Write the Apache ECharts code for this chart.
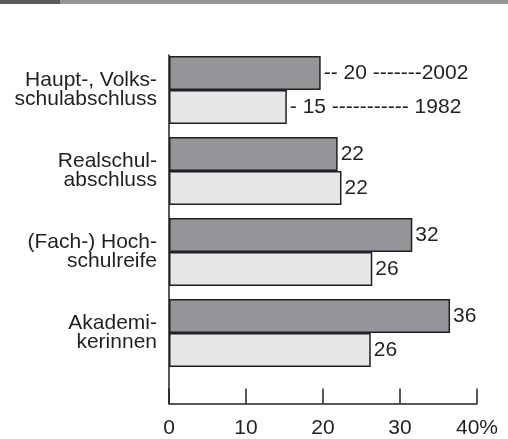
<!DOCTYPE html>
<html>
<head>
<meta charset="utf-8">
<script src="https://cdn.jsdelivr.net/npm/echarts@6/dist/echarts.min.js"></script>
<style>html,body{margin:0;padding:0;background:#fff}#main{width:508px;height:439px}</style>
</head>
<body>
<div id="main"></div>
<script>
var myChart = echarts.init(document.getElementById('main'));

// categories (top to bottom)
var categories = ['Haupt-, Volks-\nschulabschluss', 'Realschul-\nabschluss', '(Fach-) Hoch-\nschulreife', 'Akademi-\nkerinnen'];
// bar lengths, percent
var values2002 = [19.7, 21.9, 31.6, 36.5];
var values1982 = [15.3, 22.4, 26.4, 26.2];
// printed labels
var labels2002 = ['20', '22', '32', '36'];
var labels1982 = ['15', '22', '26', '26'];
var xTicks = [0, 10, 20, 30, 40];

var ink = '#231f20';
var font = '"Liberation Sans", Arial, Helvetica, sans-serif';
var fs = 21;

var option = {
    backgroundColor: '#ffffff',
    textStyle: { fontFamily: font, color: ink },
    animation: false,
    graphic: [ // header strip
        { type: 'rect', shape: { x: 60, y: 0, width: 448, height: 4 }, style: { fill: '#939598' } },
        { type: 'rect', shape: { x: 0, y: 0, width: 60, height: 4 }, style: { fill: '#58595b' } }
    ],
    grid: [
        { left: 169, width: 308, top: 49.5, height: 324 }, // bars
        { left: 169, width: 308, top: 55, bottom: 35.5 }    // axes
    ],
    xAxis: [
        { gridIndex: 0, type: 'value', min: 0, max: 40, show: false },
        {
            gridIndex: 1, type: 'value', min: 0, max: 40, interval: 10,
            axisLine: { show: true, lineStyle: { color: ink, width: 1.5 } },
            axisTick: { show: true, inside: true, length: 15, lineStyle: { color: ink, width: 1.5 } },
            splitLine: { show: false },
            axisLabel: {
                margin: 14, fontSize: fs, color: ink, fontFamily: font,
                formatter: function (v) { return v === xTicks[xTicks.length - 1] ? v + '%' : '' + v; }
            }
        }
    ],
    yAxis: [
        {
            gridIndex: 0, type: 'category', inverse: true, data: categories,
            axisLine: { show: false }, axisTick: { show: false },
            axisLabel: { margin: 12, fontSize: fs, lineHeight: 19, color: ink, fontFamily: font, align: 'right' }
        },
        {
            gridIndex: 1, type: 'value', min: 0, max: 1,
            axisLine: { show: true, lineStyle: { color: ink, width: 1.5 } },
            axisTick: { show: false }, axisLabel: { show: false }, splitLine: { show: false }
        }
    ],
    series: [
        {
            name: '2002', type: 'bar', xAxisIndex: 0, yAxisIndex: 0,
            data: values2002, barWidth: 34, barGap: '0%',
            itemStyle: { color: '#939598', borderColor: ink, borderWidth: 1.5 },
            label: {
                show: true, position: 'right', distance: 3, fontSize: fs, color: ink, fontFamily: font,
                formatter: function (p) {
                    if (p.dataIndex === 0) return '-- ' + labels2002[0] + ' -------2002';
                    return labels2002[p.dataIndex];
                }
            }
        },
        {
            name: '1982', type: 'bar', xAxisIndex: 0, yAxisIndex: 0,
            data: values1982, barWidth: 34, barGap: '0%',
            itemStyle: { color: '#e6e7e8', borderColor: ink, borderWidth: 1.5 },
            label: {
                show: true, position: 'right', distance: 3, fontSize: fs, color: ink, fontFamily: font,
                formatter: function (p) {
                    if (p.dataIndex === 0) return '- ' + labels1982[0] + ' ----------- 1982';
                    return labels1982[p.dataIndex];
                }
            }
        }
    ]
};
myChart.setOption(option);
</script>
</body>
</html>
